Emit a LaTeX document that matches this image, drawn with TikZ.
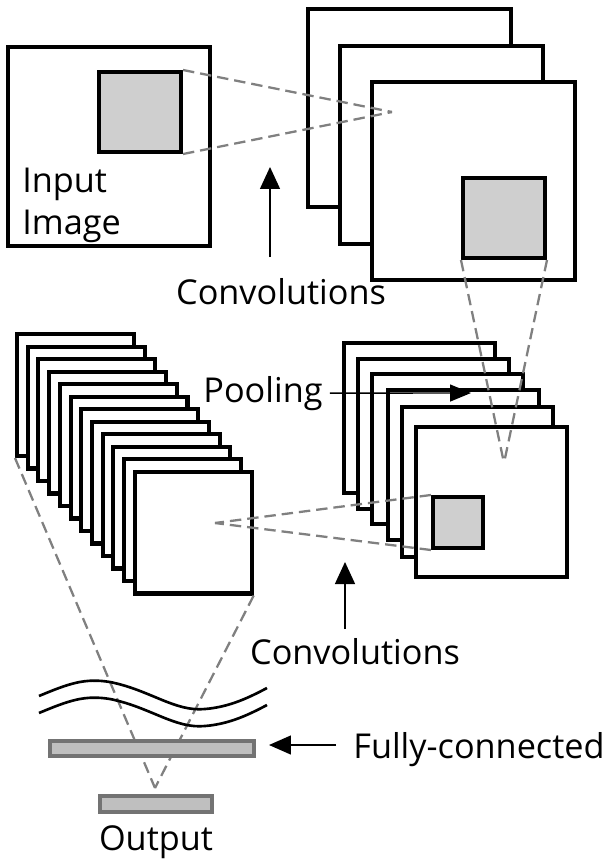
\documentclass[tikz,border=0pt]{standalone}
\usepackage{fontspec}
\setmainfont{Open Sans}
\usetikzlibrary{arrows.meta}

\tikzset{
  fmap/.style={draw, line width=2.3pt, fill=white, inner sep=0pt, rectangle},
  patch/.style={fmap, fill=black!19},
  rfield/.style={draw=black!50, line width=1.3pt, dash pattern=on 6.5pt off 3.4pt},
  layer/.style={draw=black!55, line width=1.8pt, fill=black!25, inner sep=0pt, rectangle},
  lbl/.style={font=\fontsize{19.5}{24}\selectfont, inner sep=0pt},
  pointer/.style={line width=0.8pt, -{Triangle[length=0.44cm,width=0.4cm]}}
}

\begin{document}
\begin{tikzpicture}[x=0.02cm, y=-0.02cm]
            \useasboundingbox (0,0) rectangle (606,859);

            \node[fmap, minimum width=4.04cm, minimum height=3.98cm] (inp) at (109,146.5) {};
            \node[patch, minimum width=1.64cm, minimum height=1.6cm] (inpatch) at (140,112) {};
            \node[lbl, anchor=north west, align=left] (inlbl) at (22,168) {Input\\Image};

            \foreach \i/\x/\y in {1/306/7, 2/338/44, 3/370/80}
               \node[fmap, minimum width=4.06cm, minimum height=3.96cm, anchor=north west] (cv\i) at (\x,\y) {};
            \node[patch, minimum width=1.64cm, minimum height=1.6cm] (cvpatch) at (504,218) {};

            \coordinate (f1) at (392,112);
            \draw[rfield] (inpatch.north east) -- (f1);
            \draw[rfield] (inpatch.south east) -- (f1);

            \foreach \i/\x/\y in {1/342/341, 2/356/357, 3/370/372, 4/386/388, 5/400/405, 6/414/425}
               \node[fmap, minimum width=3.02cm, minimum height=3cm, anchor=north west] (pl\i) at (\x,\y) {};
            \node[patch, minimum width=1cm, minimum height=1.02cm] (plpatch) at (458,522.5) {};

            \foreach \i in {1,...,12}
               \node[fmap, minimum width=2.34cm, minimum height=2.44cm, anchor=north west] (cc\i) at ({15+(\i-1)*10.7},{332+(\i-1)*12.5}) {};

            \coordinate (f2) at (504,463);
            \draw[rfield] (cvpatch.south west) -- (f2);
            \draw[rfield] (cvpatch.south east) -- (f2);

            \coordinate (f3) at (215,523);
            \draw[rfield] (plpatch.north west) -- (f3);
            \draw[rfield] (plpatch.south west) -- (f3);

            \coordinate (f4) at (155,788);
            \draw[rfield] (cc1.south west) -- (f4);
            \draw[rfield] (cc12.south east) -- (f4);

            \draw[line width=1.5pt] (39,696) .. controls (70,683) and (85,678) .. (110,682) .. controls (150,690) and (175,712) .. (205,709) .. controls (230,707) and (250,697) .. (267,688);
            \draw[line width=1.5pt] (39,713) .. controls (70,700) and (85,695) .. (110,699) .. controls (150,707) and (175,729) .. (205,726) .. controls (230,724) and (250,714) .. (267,705);

            \node[layer, minimum width=4.08cm, minimum height=0.3cm] (fc) at (152,748.5) {};
            \node[layer, minimum width=2.24cm, minimum height=0.32cm] (out) at (156,804) {};

            \node[lbl, anchor=base] (conv1) at (281,304) {Convolutions};
            \coordinate (a1s) at (270,257);
            \coordinate (a1) at (270,167);
            \draw[pointer] (a1s) -- (a1);

            \node[lbl, anchor=base] (pool) at (263,402) {Pooling};
            \coordinate (a2) at (471,393);
            \draw[pointer, -{Triangle[length=0.42cm,width=0.34cm]}] ([xshift=4pt]pool.east) -- (a2);

            \node[lbl, anchor=base] (conv2) at (355,664) {Convolutions};
            \coordinate (a3s) at (345,629);
            \coordinate (a3) at (345,562);
            \draw[pointer] (a3s) -- (a3);

            \node[lbl, anchor=base west] (fcl) at (353,758) {Fully-connected};
            \coordinate (a4s) at (336,745);
            \coordinate (a4) at (269,745);
            \draw[pointer, -{Triangle[length=0.44cm,width=0.38cm]}] (a4s) -- (a4);

            \node[lbl, anchor=base] (outl) at (156,850) {Output};
          \end{tikzpicture}
\end{document}
